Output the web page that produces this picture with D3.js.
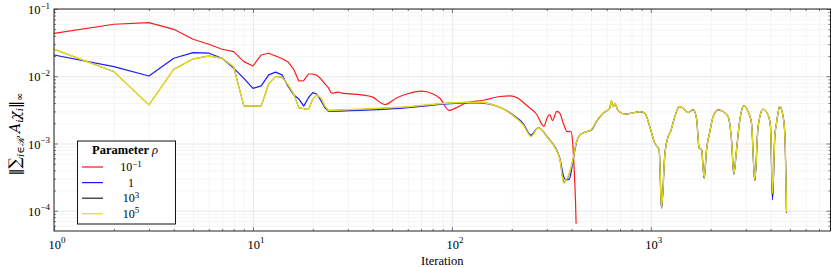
<!DOCTYPE html>
<html><head><meta charset="utf-8">
<script src="https://cdn.jsdelivr.net/npm/d3@7"></script>
<style>
html,body{margin:0;padding:0;background:#fff;}
svg{display:block;}
text{font-family:"Liberation Serif","DejaVu Serif",serif;fill:#000;}
</style></head>
<body>
<svg id="chart" width="831" height="267"></svg>
<script>
// ---- data (iteration, value) ----
const redSeries = [[1,0.0435],[2,0.0593],[3,0.0626],[4,0.0499],[5,0.0355],[6,0.0299],[7,0.0252],[8,0.0232],[9,0.0165],[10,0.0142],[11,0.0207],[12,0.022],[13,0.02],[14,0.0184],[15,0.0163],[16,0.0128],[17,0.0085],[18,0.0086],[19,0.0108],[20,0.0108],[21,0.0103],[22,0.0091],[23,0.0077],[24,0.0067],[25,0.0056],[26,0.0057],[27,0.0058],[28,0.0056],[30,0.0055],[35,0.0053],[40,0.0049],[46,0.0038],[53,0.0048],[60,0.0055],[70,0.006],[80,0.0055],[87,0.0047],[97,0.0031],[103,0.0033],[118,0.004],[144,0.0044],[175,0.005],[196,0.0051],[215,0.0047],[237,0.0037],[267,0.0027],[290,0.0018],[301,0.0024],[310,0.0027],[320,0.0022],[337,0.003],[349,0.0028],[363,0.002],[380,0.0015],[397,0.0015],[405,0.001],[412,0.0004],[418,0.000145],[421,0.000065]];

const blueSeries = [[1,0.0207],[2,0.0139],[3,0.0101],[4,0.0185],[5,0.0224],[6,0.022],[7,0.0185],[8,0.0132],[9,0.0093],[10,0.0066],[11,0.0072],[12,0.0105],[13,0.0115],[14,0.0105],[15,0.0071],[16,0.0053],[17,0.0046],[18,0.0036],[19,0.0048],[20,0.0057],[21,0.0054],[22,0.0043],[23,0.0034],[24,0.003],[55,0.00334],[120,0.004],[134,0.004],[174,0.00346],[203,0.00266],[228,0.002],[249,0.00134],[272,0.00172],[305,0.0012],[329,0.0009],[349,0.0006],[365,0.00032],[372,0.00029],[380,0.00029],[389,0.000295],[407,0.00057],[420,0.00095],[440,0.00134],[466,0.00147],[503,0.00159],[533,0.00212],[576,0.00282],[622,0.00334],[635,0.0042],[646,0.00354],[659,0.0039],[685,0.00308],[740,0.00275],[800,0.00282],[880,0.00298],[933,0.00282],[988,0.00178],[1047,0.00101],[1101,0.0008],[1132,0.000109],[1176,0.00068],[1222,0.00127],[1256,0.0015],[1320,0.00251],[1388,0.00354],[1453,0.00334],[1540,0.00288],[1632,0.00316],[1697,0.00238],[1749,0.00085],[1798,0.00082],[1853,0.000305],[1905,0.0008],[1980,0.0015],[2056,0.00251],[2179,0.00316],[2308,0.00298],[2446,0.00251],[2544,0.00113],[2613,0.00035],[2696,0.0008],[2801,0.00224],[2934,0.00362],[3083,0.00298],[3206,0.002],[3331,0.00028],[3461,0.00178],[3667,0.00323],[3886,0.00266],[3995,0.00178],[4089,0.000145],[4199,0.00127],[4282,0.002],[4448,0.00354],[4589,0.00282],[4714,0.00142],[4807,0.000094]];

const blackSeries = [[1,0.0252],[2,0.0117],[3,0.00375],[4,0.0127],[5,0.0181],[6,0.02],[7,0.0185],[8,0.0139],[9,0.0036],[10,0.0036],[11,0.0036],[12,0.0077],[13,0.0099],[14,0.0097],[15,0.0075],[16,0.0055],[17,0.0034],[18,0.0033],[19,0.0032],[20,0.0046],[21,0.0053],[22,0.0047],[23,0.0036],[24,0.0031],[55,0.00343],[120,0.0041],[134,0.0041],[174,0.00346],[203,0.0026],[228,0.0019],[250,0.0013],[272,0.00172],[305,0.00118],[329,0.00088],[349,0.00058],[365,0.00027],[380,0.0003],[389,0.00035],[407,0.0006],[420,0.00097],[440,0.00134],[466,0.00147],[503,0.00162],[533,0.00215],[576,0.00285],[622,0.00336],[632,0.0043],[646,0.00354],[659,0.0039],[685,0.00308],[740,0.00275],[800,0.00282],[880,0.00298],[933,0.00282],[988,0.00178],[1047,0.00101],[1101,0.0008],[1132,0.000112],[1176,0.00068],[1222,0.00127],[1256,0.0015],[1320,0.00251],[1388,0.00354],[1453,0.00334],[1540,0.00288],[1632,0.00316],[1697,0.00238],[1749,0.00085],[1798,0.00082],[1853,0.00031],[1905,0.0008],[1980,0.0015],[2056,0.00251],[2179,0.00316],[2308,0.00298],[2446,0.00251],[2544,0.00113],[2613,0.00036],[2696,0.0008],[2801,0.00224],[2934,0.00362],[3083,0.00298],[3206,0.002],[3331,0.00029],[3461,0.00178],[3667,0.00323],[3886,0.00266],[3995,0.00178],[4089,0.00017],[4199,0.00127],[4282,0.002],[4448,0.00354],[4589,0.00282],[4714,0.00142],[4807,0.000097]];

const yellowSeries = [[1,0.0252],[2,0.0117],[3,0.00375],[4,0.0127],[5,0.0181],[6,0.02],[7,0.0185],[8,0.0139],[9,0.0036],[10,0.0036],[11,0.0036],[12,0.0077],[13,0.0099],[14,0.0097],[15,0.0075],[16,0.0055],[17,0.0034],[18,0.0033],[19,0.0032],[20,0.0046],[21,0.0053],[22,0.0047],[23,0.0036],[24,0.0031],[55,0.00346],[120,0.0041],[134,0.0041],[174,0.00346],[203,0.0026],[228,0.0019],[250,0.00127],[272,0.00172],[305,0.00118],[329,0.00088],[349,0.00058],[365,0.000257],[380,0.00031],[389,0.00036],[407,0.0006],[420,0.00098],[440,0.00134],[466,0.00147],[503,0.00162],[533,0.00215],[576,0.00285],[622,0.00336],[632,0.0044],[646,0.00354],[659,0.0039],[685,0.00308],[740,0.00275],[800,0.00282],[880,0.00298],[933,0.00282],[988,0.00178],[1047,0.00101],[1101,0.0008],[1132,0.000112],[1176,0.00068],[1222,0.00127],[1256,0.0015],[1320,0.00251],[1388,0.00354],[1453,0.00334],[1540,0.00288],[1632,0.00316],[1697,0.00238],[1749,0.00085],[1798,0.00082],[1853,0.00031],[1905,0.0008],[1980,0.0015],[2056,0.00251],[2179,0.00316],[2308,0.00298],[2446,0.00251],[2544,0.00113],[2613,0.00036],[2696,0.0008],[2801,0.00224],[2934,0.00362],[3083,0.00298],[3206,0.002],[3331,0.00029],[3461,0.00178],[3667,0.00323],[3886,0.00266],[3995,0.00178],[4089,0.00018],[4199,0.00127],[4282,0.002],[4448,0.00354],[4589,0.00282],[4714,0.00142],[4807,0.000097]];

const seriesNames = ["10^−1", "1", "10^3", "10^5"];
const seriesColors = ["#ff1a1a", "#1a1aff", "#222222", "#e6da20"];
const seriesWidths = [1.2, 1.2, 1.0, 1.45];
const xMajorTicks = [1, 10, 100, 1000];
const xTickExps = ["0", "1", "2", "3"];
const yMajorTicks = [1e-4, 1e-3, 1e-2, 1e-1];
const yTickExps = ["−4", "−3", "−2", "−1"];
const xLabel = "Iteration";
const legendTitle = "Parameter";

// ---- layout ----
const L = 54, R = 830.5, T = 9, B = 231;
const svg = d3.select("#chart");
const x = d3.scaleLog().domain([1, 8000]).range([L, R]);
const y = d3.scaleLog().domain([5e-5, 0.1]).range([B, T]);

function minorTicks(lo, hi) {
  const out = [];
  for (let e = Math.floor(Math.log10(lo)); e <= Math.ceil(Math.log10(hi)); e++) {
    for (let m = 2; m <= 9; m++) { const v = m * Math.pow(10, e); if (v > lo && v < hi) out.push(v); }
  }
  return out;
}
const xMinor = minorTicks(1, 8000);
const yMinor = minorTicks(5e-5, 0.1);

// grids
function grid(axis, tr, color) {
  const g = svg.append("g").attr("transform", tr).call(axis);
  g.select(".domain").remove();
  g.selectAll("line").attr("stroke", color).attr("stroke-width", 0.8);
  g.selectAll("text").remove();
}
grid(d3.axisBottom(x).tickValues(xMinor).tickSize(-(B - T)).tickFormat(""), `translate(0,${B})`, "#f2f2f2");
grid(d3.axisLeft(y).tickValues(yMinor).tickSize(-(R - L)).tickFormat(""), `translate(${L},0)`, "#f2f2f2");
grid(d3.axisBottom(x).tickValues(xMajorTicks).tickSize(-(B - T)).tickFormat(""), `translate(0,${B})`, "#e3e3e3");
grid(d3.axisLeft(y).tickValues(yMajorTicks).tickSize(-(R - L)).tickFormat(""), `translate(${L},0)`, "#e3e3e3");

// lines: early iterations drawn as straight segments, later (dense) part smoothed
const lineLin = d3.line().x(d => x(d[0])).y(d => y(d[1]));
const lineSmooth = d3.line().x(d => x(d[0])).y(d => y(d[1])).curve(d3.curveMonotoneX);
const plot = svg.append("g");
[redSeries, blueSeries, blackSeries, yellowSeries].forEach((s, i) => {
  const early = s.filter(d => d[0] <= 24);
  const late = s.filter(d => d[0] >= 24);
  [[early, lineLin], [late, lineSmooth]].forEach(([part, gen]) => {
    plot.append("path").datum(part).attr("d", gen).attr("fill", "none")
      .attr("stroke", seriesColors[i]).attr("stroke-width", seriesWidths[i])
      .attr("stroke-linejoin", "round").attr("stroke-linecap", "round");
  });
});

// ticks on all sides (inward)
function ticks(axis, tr) {
  const g = svg.append("g").attr("transform", tr).call(axis);
  g.select(".domain").remove();
  g.selectAll("line").attr("stroke", "#444").attr("stroke-width", 0.7);
  g.selectAll("text").remove();
}
ticks(d3.axisBottom(x).tickValues(xMajorTicks).tickSize(-4).tickSizeOuter(0), `translate(0,${B})`);
ticks(d3.axisBottom(x).tickValues(xMinor).tickSize(-2).tickSizeOuter(0), `translate(0,${B})`);
ticks(d3.axisTop(x).tickValues(xMajorTicks).tickSize(-4).tickSizeOuter(0), `translate(0,${T})`);
ticks(d3.axisTop(x).tickValues(xMinor).tickSize(-2).tickSizeOuter(0), `translate(0,${T})`);
ticks(d3.axisLeft(y).tickValues(yMajorTicks).tickSize(-4).tickSizeOuter(0), `translate(${L},0)`);
ticks(d3.axisLeft(y).tickValues(yMinor).tickSize(-2).tickSizeOuter(0), `translate(${L},0)`);
ticks(d3.axisRight(y).tickValues(yMajorTicks).tickSize(-4).tickSizeOuter(0), `translate(${R},0)`);
ticks(d3.axisRight(y).tickValues(yMinor).tickSize(-2).tickSizeOuter(0), `translate(${R},0)`);

// frame
svg.append("rect").attr("x", L).attr("y", T).attr("width", R - L).attr("height", B - T)
  .attr("fill", "none").attr("stroke", "#222").attr("stroke-width", 1);

// tick labels
function pow10(sel, exp, lift) {
  sel.append("tspan").text("10");
  sel.append("tspan").attr("dy", -(lift || 5.5)).attr("font-size", "9px").text(exp);
}
xMajorTicks.forEach((v, i) => {
  svg.append("text").attr("x", x(v) + 3).attr("y", 248.5).attr("text-anchor", "middle")
    .attr("font-size", "12.5px").call(pow10, xTickExps[i]);
});
yMajorTicks.forEach((v, i) => {
  svg.append("text").attr("x", 50).attr("y", y(v) + 5).attr("text-anchor", "end")
    .attr("font-size", "12.5px").call(pow10, yTickExps[i]);
});

// axis labels
svg.append("text").attr("x", (L + R) / 2).attr("y", 264.5).attr("text-anchor", "middle")
  .attr("font-size", "12.5px").text(xLabel);

const yl = svg.append("text").attr("transform", "translate(20,134) rotate(-90)")
  .attr("text-anchor", "middle").attr("font-size", "14px")
  .style("font-family", "'DejaVu Serif',serif");
yl.append("tspan").text("‖");
yl.append("tspan").attr("font-size", "16px").text("∑");
yl.append("tspan").attr("dy", 4).attr("font-size", "10px").attr("font-style", "italic").text("i∈ℛ");
yl.append("tspan").attr("dy", -4).attr("font-style", "italic").text(" A");
yl.append("tspan").attr("dy", 3).attr("font-size", "10px").attr("font-style", "italic").text("i");
yl.append("tspan").attr("dy", -3).attr("font-style", "italic").text("χ");
yl.append("tspan").attr("dy", 3).attr("font-size", "10px").attr("font-style", "italic").text("i");
yl.append("tspan").attr("dy", -3).text("‖");
yl.append("tspan").attr("dy", 3).attr("font-size", "10px").text("∞");

// legend
const lg = svg.append("g");
lg.append("rect").attr("x", 77.5).attr("y", 141).attr("width", 98).attr("height", 83)
  .attr("fill", "#fff").attr("stroke", "#111").attr("stroke-width", 1);
const lt = lg.append("text").attr("x", 125).attr("y", 153.5).attr("text-anchor", "middle").attr("font-size", "12.5px");
lt.append("tspan").attr("font-weight", "bold").text(legendTitle + " ");
lt.append("tspan").attr("font-style", "italic").text("ρ");
seriesNames.forEach((n, i) => {
  const yy = 167 + i * 15.6;
  lg.append("line").attr("x1", 82).attr("x2", 103).attr("y1", yy).attr("y2", yy)
    .attr("stroke", seriesColors[i]).attr("stroke-width", 1.2);
  const t = lg.append("text").attr("x", 131).attr("y", yy + 4).attr("text-anchor", "middle").attr("font-size", "12px");
  if (n.startsWith("10^")) { pow10(t, n.slice(3), 4.5); } else { t.text(n); }
});
</script>
</body></html>
